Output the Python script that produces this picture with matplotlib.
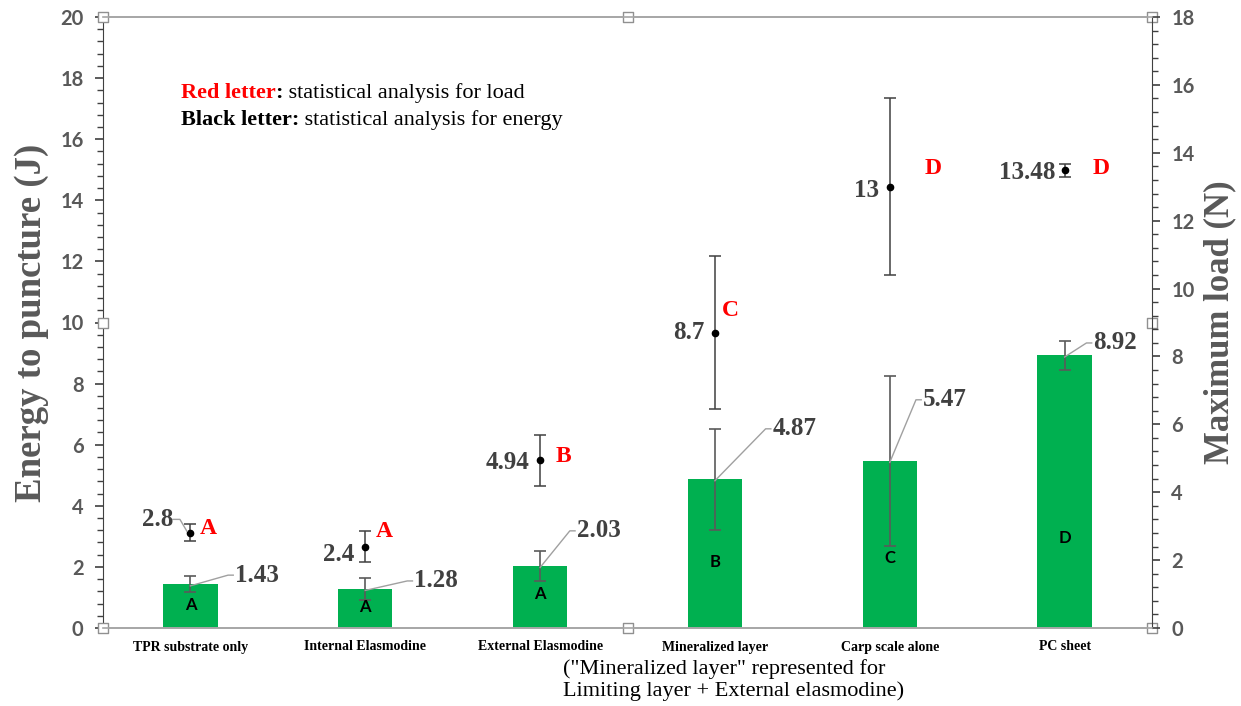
import matplotlib
matplotlib.use("Agg")
import matplotlib.pyplot as plt
from matplotlib.ticker import MultipleLocator
import numpy as np

categories = ["TPR substrate only", "Internal Elasmodine", "External Elasmodine",
              "Mineralized layer", "Carp scale alone", "PC sheet"]
energy = [1.43, 1.28, 2.03, 4.87, 5.47, 8.92]
energy_err = [0.26, 0.36, 0.49, 1.65, 2.78, 0.46]
load = [2.8, 2.4, 4.94, 8.7, 13, 13.48]
load_err = [0.25, 0.46, 0.75, 2.25, 2.6, 0.19]
load_labels = ["2.8", "2.4", "4.94", "8.7", "13", "13.48"]
red_letters = ["A", "A", "B", "C", "D", "D"]
black_letters = ["A", "A", "A", "B", "C", "D"]

SERIF = "Liberation Serif"
SANS = "Lato"
GRAY = "#595959"
DARK = "#404040"

fig = plt.figure(figsize=(12.41, 7.06), dpi=100)
ax = fig.add_axes([103/1241, 78/706, 1049/1241, 611/706])
ax2 = ax.twinx()

x = np.arange(len(categories))
ax.set_xlim(-0.5, len(categories) - 0.5)
ax.set_ylim(0, 20)
ax2.set_ylim(0, 18)

ax.bar(x, energy, width=0.31, color="#00B050", zorder=2)
ax.errorbar(x, energy, yerr=energy_err, fmt="none", ecolor="#5a5a5a",
            elinewidth=1.2, capsize=4, capthick=1.2, zorder=3)
ax2.errorbar(x, load, yerr=load_err, fmt="o", color="black", ms=4.5,
             ecolor="#404040", elinewidth=1.1, capsize=4, capthick=1.1, zorder=4)

# bar value labels with leader lines
bar_label_off = [(0.245, 0.3), (0.27, 0.26), (0.2, 1.15), (0.32, 1.65), (0.18, 2.0), (0.155, 0.41)]
for xi, v, (dx, dy) in zip(x, energy, bar_label_off):
    lx, ly = xi + dx, v + dy
    ax.plot([xi, lx - 0.03, lx], [v - 0.05, ly, ly], color="#a0a0a0", lw=1.0, zorder=5)
    ax.text(lx + 0.01, ly, f"{v:.2f}", fontsize=18, fontweight="bold", family=SERIF,
            color=DARK, ha="left", va="center", zorder=6)

# black letters inside bars
black_y = [0.75, 0.7, 1.1, 2.15, 2.3, 2.95]
for xi, lt, yy in zip(x, black_letters, black_y):
    ax.text(xi, yy, lt, fontsize=12, fontweight="bold", family=SANS, color="black",
            ha="center", va="center", zorder=6)

# point labels
pt_label_off = [(-0.1, 0.4), (-0.06, -0.22), (-0.06, -0.05), (-0.06, 0.0), (-0.06, -0.1), (-0.05, -0.05)]
for xi, v, s, (dx, dy) in zip(x, load, load_labels, pt_label_off):
    ax2.text(xi + dx, v + dy, s, fontsize=18, fontweight="bold", family=SERIF,
             color=DARK, ha="right", va="center", zorder=6)
ax2.plot([x[0] - 0.1, x[0] - 0.06, x[0] - 0.02], [load[0] + 0.4, load[0] + 0.4, load[0] + 0.05],
         color="#a0a0a0", lw=1.0, zorder=5)

# red letters
red_off = [(0.055, 0.12), (0.06, 0.45), (0.09, 0.1), (0.04, 0.65), (0.2, 0.55), (0.16, 0.05)]
for xi, v, lt, (dx, dy) in zip(x, load, red_letters, red_off):
    ax2.text(xi + dx, v + dy, lt, fontsize=17, fontweight="bold", family=SERIF,
             color="#FF0000", ha="left", va="center", zorder=6)

# annotation text
t1 = ax.text(0.074, 0.867, "Red letter", transform=ax.transAxes, fontsize=16, fontweight="bold",
             family=SERIF, color="#FF0000", ha="left", va="baseline")
t1b = ax.annotate(":", xy=(1, 0), xycoords=t1, fontsize=16, fontweight="bold",
                  family=SERIF, color="black", ha="left", va="bottom")
ax.annotate(" statistical analysis for load", xy=(1, 0), xycoords=t1b, fontsize=16,
            family=SERIF, color="black", ha="left", va="bottom")
t2 = ax.text(0.074, 0.823, "Black letter:", transform=ax.transAxes, fontsize=16, fontweight="bold",
             family=SERIF, color="black", ha="left", va="baseline")
ax.annotate(" statistical analysis for energy", xy=(1, 0), xycoords=t2, fontsize=16,
            family=SERIF, color="black", ha="left", va="bottom")

# axes styling
ax.set_xticks(x)
ax.set_xticklabels(categories, fontsize=10, fontweight="bold", family=SERIF, color="black")
ax.tick_params(axis="x", length=0, pad=9)
for a in (ax, ax2):
    for sp in ("top", "bottom"):
        a.spines[sp].set_color("#a6a6a6")
        a.spines[sp].set_linewidth(1.2)
ax.spines["left"].set_color("#404040")
ax.spines["right"].set_visible(False)
ax2.spines["right"].set_color("#404040")
ax2.spines["left"].set_visible(False)

ax.yaxis.set_major_locator(MultipleLocator(2))
ax.yaxis.set_minor_locator(MultipleLocator(0.4))
ax2.yaxis.set_major_locator(MultipleLocator(2))
ax2.yaxis.set_minor_locator(MultipleLocator(0.4))
for a in (ax, ax2):
    a.tick_params(axis="y", which="major", length=6, width=1.2, color="#404040",
                  labelsize=14.5, labelcolor=GRAY, pad=8)
    a.tick_params(axis="y", which="minor", length=4, width=1.0, color="#404040")
    for lb in a.get_yticklabels():
        lb.set_fontweight("bold")
        lb.set_family(SANS)

ax.set_ylabel("Energy to puncture (J)", fontsize=26.5, fontweight="bold", family=SERIF,
              color=GRAY, labelpad=8)
ax2.set_ylabel("Maximum load (N)", fontsize=25, fontweight="bold", family=SERIF,
               color=GRAY, rotation=90, labelpad=6)

fig.text(563/1241, 1 - 680/706,
         '("Mineralized layer" represented for\nLimiting layer + External elasmodine)',
         fontsize=16, fontfamily=SERIF, color="black", ha="left", va="center",
         multialignment="left", linespacing=1.2)

# selection handles
hx = [0, 0.5, 1, 0, 1, 0, 0.5, 1]
hy = [0, 0, 0, 0.5, 0.5, 1, 1, 1]
ax.scatter(hx, hy, transform=ax.transAxes, marker="s", s=45, facecolor="white",
           edgecolor="#909090", linewidth=1.0, clip_on=False, zorder=10)

fig.savefig("out.png", dpi=100)
